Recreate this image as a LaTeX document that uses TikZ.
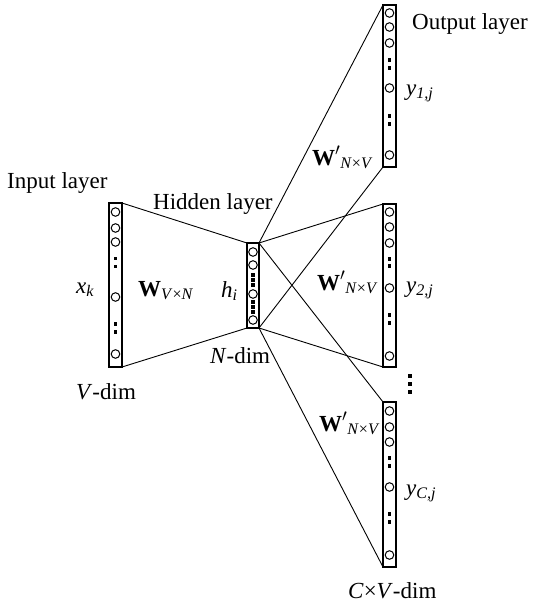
\documentclass[tikz,border=0pt]{standalone}
\usepackage{fontspec}
\setmainfont{Liberation Serif}
\newcommand\sbs[1]{\textsubscript{#1}}
\newcommand\unitcircles[3]{\foreach \r in {#3} {\draw[unitc] (#1,#2+\r) circle[radius=4.3];}}
\newcommand\unitdots[3]{\foreach \r in {#3} {\fill (#1-1.8,#2+\r-1.8) rectangle ++(3.6,3.6);}}
\begin{document}
\begin{tikzpicture}[x=1pt,y=-1pt,
  layerbox/.style={draw, line width=1.4pt, fill=white, inner sep=0pt, outer sep=0pt, minimum width=13pt},
  unitc/.style={line width=1pt},
  wire/.style={line width=0.9pt},
  lbl/.style={anchor=base west, inner sep=0pt, font=\fontsize{23}{27}\selectfont}]
\useasboundingbox (0,0) rectangle (536,608);
% boxes
\node[layerbox, minimum height=164pt] (in) at (115.5,285) {};
\node[layerbox, minimum width=12pt, minimum height=85pt] (hid) at (253,285.5) {};
\node[layerbox, minimum height=162pt] (o1) at (389.5,86) {};
\node[layerbox, minimum height=163pt] (o2) at (389.5,285.5) {};
\node[layerbox, minimum height=165pt] (o3) at (389.5,484.5) {};
% connectors
\draw[wire] (in.north east) -- (hid.north west);
\draw[wire] (in.south east) -- (hid.south west);
\draw[wire] (hid.north east) -- (o1.north west);
\draw[wire] (hid.south east) -- (o1.south west);
\draw[wire] (hid.north east) -- (o2.north west);
\draw[wire] (hid.south east) -- (o2.south west);
\draw[wire] (hid.north east) -- (o3.north west);
\draw[wire] (hid.south east) -- (o3.south west);
% units
\unitcircles{115.5}{203}{9,25,39,94,151}
\unitdots{115.5}{203}{55.5,63.5,121,129}
\unitcircles{253}{243}{9,22,51,77}
\unitdots{253}{243}{32,37,42,59,64,69}
\unitcircles{389.5}{5}{8,22,38,83,150}
\unitdots{389.5}{5}{55,63,111,119}
\unitcircles{389.5}{204}{8,23,39,84,152}
\unitdots{389.5}{204}{55,62,111,119}
\unitcircles{389.5}{402}{9,25,40,85,153}
\unitdots{389.5}{402}{56,64,112,120}
\unitdots{410}{0}{376,384,392}
% labels
\node[lbl] (tout) at (412,29) {Output layer};
\node[lbl] (tin) at (7,188) {Input layer};
\node[lbl] (thid) at (153,209) {Hidden layer};
\node[lbl] (tnd) at (210,363) {\textit{N}-dim};
\node[lbl] (tvd) at (76,399) {\textit{V}-dim};
\node[lbl] (tcv) at (348,598) {\textit{C}×\textit{V}-dim};
\node[lbl] (tx) at (76,293) {\textit{x}\sbs{\textit{k}}};
\node[lbl] (th) at (221,297) {\textit{h}\sbs{\textit{i}}};
\node[lbl] (tw) at (138,296) {\textbf{W}\sbs{\textit{V}×\textit{N}}};
\node[lbl] (tw1) at (312,165) {\textbf{W}$'$\sbs{\textit{N}×\textit{V}}};
\node[lbl] (tw2) at (317,290) {\textbf{W}$'$\sbs{\textit{N}×\textit{V}}};
\node[lbl] (tw3) at (319,431) {\textbf{W}$'$\sbs{\textit{N}×\textit{V}}};
\node[lbl] (ty1) at (406,95) {\textit{y}\sbs{\textit{1,j}}};
\node[lbl] (ty2) at (406,292) {\textit{y}\sbs{\textit{2,j}}};
\node[lbl] (tyc) at (406,495) {\textit{y}\sbs{\textit{C,j}}};
\end{tikzpicture}
\end{document}
